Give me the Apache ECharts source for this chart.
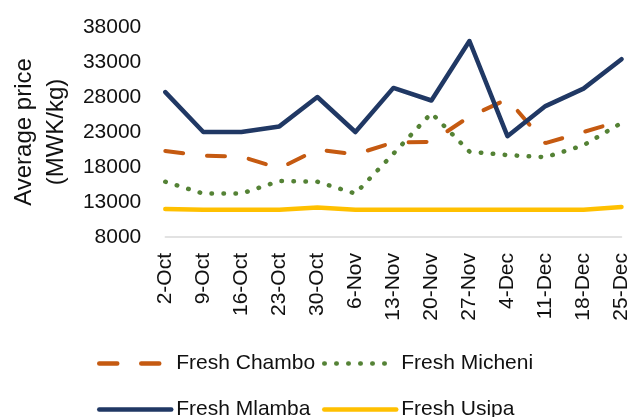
<!DOCTYPE html>
<html>
<head>
<meta charset="utf-8">
<script src="https://cdn.jsdelivr.net/npm/echarts@6/dist/echarts.min.js"></script>
<style>
  html, body { margin: 0; padding: 0; background: #fff; }
  #chart { width: 632px; height: 417px; }
</style>
</head>
<body>
<div id="chart"></div>
<script>
const weeks = ['2-Oct', '9-Oct', '16-Oct', '23-Oct', '30-Oct', '6-Nov', '13-Nov', '20-Nov', '27-Nov', '4-Dec', '11-Dec', '18-Dec', '25-Dec']
const chambo = [20300, 19600, 19500, 17800, 20500, 19800, 21500, 21600, 25200, 27700, 21400, 23000, 24600]
const micheni = [15900, 14200, 14200, 16000, 15900, 14200, 19900, 25700, 20200, 19700, 19400, 21100, 24300]
const mlamba = [28700, 23000, 23000, 23800, 28000, 23000, 29300, 27500, 36000, 22400, 26700, 29200, 33400]
const usipa = [12000, 11900, 11900, 11900, 12200, 11900, 11900, 11900, 11900, 11900, 11900, 11900, 12300]

const font = '"Liberation Sans", Arial, sans-serif'
const textColor = '#111'

const chart = echarts.init(document.getElementById('chart'))

// one legend per entry so the two columns line up like the original
function legendAt(name, left, top, iconWidth) {
  return {
    data: [name],
    left: left,
    top: top,
    itemWidth: iconWidth,
    itemHeight: 6,
    padding: 0,
    itemStyle: { opacity: 0 },
    lineStyle: { width: 4.5, cap: 'round' },
    textStyle: { fontFamily: font, fontSize: 21, color: textColor, padding: [0, 0, 0, Math.max(0, 6 - (iconWidth - 66))] },
  }
}

chart.setOption({
  backgroundColor: '#fff',
  animation: false,
  grid: { left: 163, right: 8, top: 27, bottom: 180 },
  legend: [
    legendAt('Fresh Chambo', 97, 353, 66),
    legendAt('Fresh Micheni', 322, 353, 66),
    legendAt('Fresh Mlamba', 97, 399, 72),
    legendAt('Fresh Usipa', 322, 399, 72),
  ],
  xAxis: {
    type: 'category',
    data: weeks,
    boundaryGap: false,
    axisLine: { lineStyle: { color: '#d9d9d9', width: 1.5 } },
    axisTick: { show: false },
    axisLabel: { rotate: 90, margin: 16, fontFamily: font, fontSize: 21, color: textColor, interval: 0 },
  },
  yAxis: {
    type: 'value',
    min: 8000,
    max: 38000,
    interval: 5000,
    axisLine: { show: false },
    axisTick: { show: false },
    splitLine: { show: false },
    axisLabel: { margin: 24, fontFamily: font, fontSize: 21, color: textColor, formatter: (v) => String(v) },
    name: 'Average price\n(MWK/kg)',
    nameLocation: 'middle',
    nameGap: 93,
    nameTextStyle: { fontFamily: font, fontSize: 24, color: textColor, lineHeight: 32 },
  },
  series: [
    {
      name: 'Fresh Chambo',
      type: 'line',
      data: chambo,
      symbol: 'none',
      lineStyle: { color: '#c55a11', width: 4, type: [18, 24], cap: 'round' },
      itemStyle: { color: '#c55a11' },
    },
    {
      name: 'Fresh Micheni',
      type: 'line',
      data: micheni,
      symbol: 'none',
      lineStyle: { color: '#548235', width: 4.5, type: [0.5, 11.5], cap: 'round' },
      itemStyle: { color: '#548235' },
    },
    {
      name: 'Fresh Mlamba',
      type: 'line',
      data: mlamba,
      symbol: 'none',
      lineStyle: { color: '#203864', width: 4.5, cap: 'round', join: 'round' },
      itemStyle: { color: '#203864' },
    },
    {
      name: 'Fresh Usipa',
      type: 'line',
      data: usipa,
      symbol: 'none',
      lineStyle: { color: '#ffc000', width: 4.5, cap: 'round' },
      itemStyle: { color: '#ffc000' },
    },
  ],
})
</script>
</body>
</html>
